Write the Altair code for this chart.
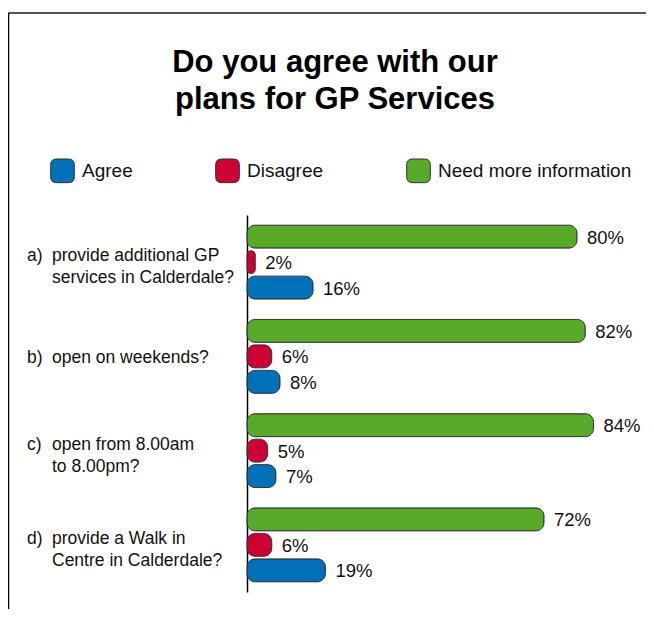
import altair as alt
import pandas as pd

# ---- data ----
questions = ["a", "b", "c", "d"]
prefixes = ["a)", "b)", "c)", "d)"]
first_lines = ["provide additional GP", "open on weekends?", "open from 8.00am", "provide a Walk in"]
second_lines = ["services in Calderdale?", "", "to 8.00pm?", "Centre in Calderdale?"]
series = ["Agree", "Disagree", "Need more information"]
agree = [16, 8, 7, 19]
disagree = [2, 6, 5, 6]
need_info = [80, 82, 84, 72]
colors = ["#0070B8", "#CC0033", "#5AAA2A"]
title_lines = ["Do you agree with our", "plans for GP Services"]

rows = []
for i, q in enumerate(questions):
    for s, vals in zip(series, [agree, disagree, need_info]):
        rows.append({"question": q, "series": s, "value": vals[i], "label": f"{vals[i]}%"})
df = pd.DataFrame(rows)
qdf = pd.DataFrame({
    "question": questions, "prefix": prefixes,
    "line1": first_lines, "line2": second_lines,
    "nlines": [2 if l2 else 1 for l2 in second_lines],
})
one = pd.DataFrame({"k": [0]})

FONT = "Liberation Sans"
offset_order = ["Need more information", "Disagree", "Agree"]

yq = alt.Y("question:N", sort=questions,
           scale=alt.Scale(paddingInner=0, paddingOuter=0),
           axis=alt.Axis(labels=False, ticks=False, title=None, domain=True,
                         domainColor="#000000", domainWidth=1.5, grid=False))
yoff = alt.YOffset("series:N", sort=offset_order,
                   scale=alt.Scale(paddingInner=0.1, paddingOuter=0.4))
xv = alt.X("value:Q", scale=alt.Scale(domain=[0, 96], nice=False), axis=None)

rounded = ("M-0.5,-1 L0.5,-1 Q1,-1 1,-0.5 L1,0.5 Q1,1 0.5,1 L-0.5,1 "
           "Q-1,1 -1,0.5 L-1,-0.5 Q-1,-1 -0.5,-1 Z")

bars = alt.Chart(df).mark_bar(cornerRadius=8, stroke="#333333", strokeWidth=1).encode(
    x=xv, y=yq, yOffset=yoff,
    color=alt.Color("series:N", sort=series,
                    scale=alt.Scale(domain=series, range=colors),
                    legend=alt.Legend(orient="none", legendX=-197, legendY=-57,
                                      direction="horizontal", title=None,
                                      symbolType=rounded, symbolSize=560,
                                      symbolStrokeColor="#333333", symbolStrokeWidth=1,
                                      labelFont=FONT, labelFontSize=19, labelColor="#111111",
                                      labelOffset=7, columnPadding=80, labelLimit=300)),
)

vals = alt.Chart(df).mark_text(align="left", baseline="middle", dx=10, dy=1,
                               font=FONT, fontSize=18.5, color="#111111").encode(
    x=xv, y=yq, yOffset=yoff, text="label:N")


def qlabel(field, xpos, dy, cond):
    return alt.Chart(qdf).transform_filter(cond).mark_text(
        align="left", baseline="middle", dy=dy,
        font=FONT, fontSize=17.5, color="#111111").encode(
        x=alt.value(xpos), y=yq, text=f"{field}:N")


two = "datum.nlines == 2"
single = "datum.nlines == 1"
qlayers = [
    qlabel("prefix", -220, -6, two), qlabel("line1", -195, -6, two),
    qlabel("line2", -195, 16, two),
    qlabel("prefix", -220, 2, single), qlabel("line1", -195, 2, single),
]

title = alt.Chart(one).mark_text(align="center", baseline="middle", lineHeight=37,
                                 font=FONT, fontSize=31, fontWeight="bold", color="#000000").encode(
    x=alt.value(88), y=alt.value(-152), text=alt.value(title_lines))

frame_top = alt.Chart(one).mark_rule(color="#555555", strokeWidth=2).encode(
    x=alt.value(-238.5), x2=alt.value(420), y=alt.value(-202))
frame_left = alt.Chart(one).mark_rule(color="#000000", strokeWidth=1.5).encode(
    x=alt.value(-238.5), y=alt.value(-202), y2=alt.value(420))

chart = alt.layer(frame_top, frame_left, title, bars, vals, *qlayers).properties(
    width=396, height=377,
    padding={"left": 239, "top": 207, "right": 3, "bottom": 17},
    autosize=alt.AutoSizeParams(type="none"),
    background="#ffffff",
).configure_view(stroke=None)

chart.save("out.html", embed_options={"renderer": "svg", "actions": False})
